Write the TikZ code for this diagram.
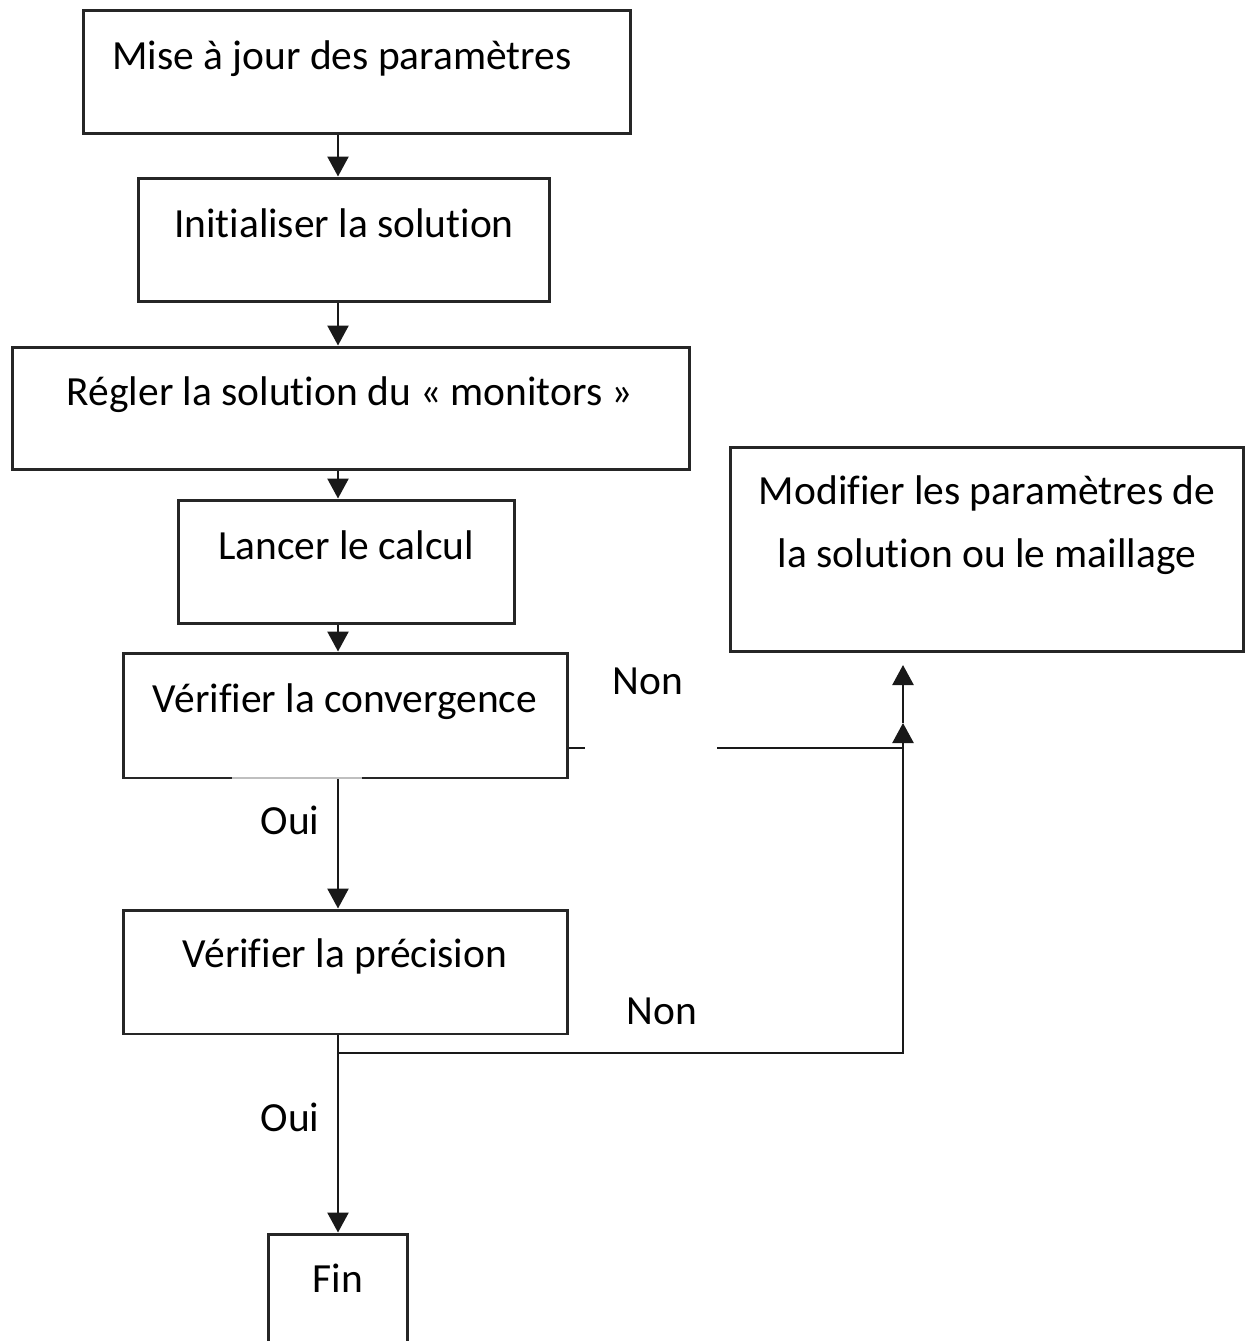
\documentclass[tikz,border=0pt]{standalone}
\usepackage{fontspec}
\setmainfont{Carlito}[Ligatures=NoCommon]
\usetikzlibrary{arrows.meta,calc}
\begin{document}
\begin{tikzpicture}[x=0.02cm,y=-0.02cm,
  bx/.style={draw=black!85,line width=1.7pt,rectangle,inner sep=0pt},
  txt/.style={font=\fontsize{23.6}{29}\selectfont,inner sep=0pt,anchor=center,text height=0.62em,text depth=0.08em,yshift=-0.19cm},
  ln/.style={draw=black!90,line width=1.4pt},
  arr/.style={ln,-{Triangle[width=0.42cm,length=0.4cm]}}]
\clip (0,0) rectangle (1248,1341);
\fill[white] (0,0) rectangle (1248,1341);
% boxes
\node[bx,minimum width=10.96cm,minimum height=2.48cm] (b1) at (357,72) {};
\node[bx,minimum width=8.24cm,minimum height=2.48cm] (b2) at (344,240) {};
\node[bx,minimum width=13.56cm,minimum height=2.46cm] (b3) at (351,408.5) {};
\node[bx,minimum width=6.74cm,minimum height=2.48cm] (b4) at (346.5,562) {};
\node[bx,minimum width=8.9cm,minimum height=2.5cm] (b5) at (345.5,715.5) {};
\node[bx,minimum width=8.9cm,minimum height=2.48cm] (b6) at (345.5,972) {};
\node[bx,minimum width=10.28cm,minimum height=4.1cm] (b7) at (987,549.5) {};
\node[bx,minimum width=2.8cm,minimum height=3.6cm] (fin) at (338,1324) {};
% texts
\node[txt] (t1) at (342,55) {Mise à jour des paramètres};
\node[txt] (t2) at (344,223) {Initialiser la solution};
\node[txt] (t3) at (350,391) {Régler la solution du « monitors »};
\node[txt] (t4) at (346,545) {Lancer le calcul};
\node[txt] (t5) at (345,698) {Vérifier la convergence};
\node[txt] (t6) at (345,953) {Vérifier la précision};
\node[txt] (t7a) at (987,490) {Modifier les paramètres de};
\node[txt] (t7b) at (987,553) {la solution ou le maillage};
\node[txt] (t8) at (338,1278) {Fin};
\node[txt] (oui1) at (290,820) {Oui};
\node[txt] (oui2) at (290,1117) {Oui};
\node[txt] (non1) at (648,680) {Non};
\node[txt] (non2) at (662,1010) {Non};
% helper coordinates
\coordinate (ax) at (338,0);
\coordinate (rx) at (903,0);
\coordinate (nony) at (0,748);
\coordinate (gapa) at (585,748);
\coordinate (gapb) at (717,748);
\coordinate (j1) at (338,1053);
\coordinate (mid) at (903,723);
\coordinate (top) at (903,665);
% gap in bottom edge of b5
\draw[white,line width=2pt] (232,778) -- (362,778);
\draw[black!25,line width=1.2pt] (232,778) -- (362,778);
% connectors
\draw[arr] (b1.south -| ax) -- (b2.north -| ax);
\draw[arr] (b2.south -| ax) -- (b3.north -| ax);
\draw[arr] (b3.south -| ax) -- (b4.north -| ax);
\draw[arr] (b4.south -| ax) -- (b5.north -| ax);
\draw[arr] (b5.south -| ax) -- (b6.north -| ax);
\draw[arr] (b6.south -| ax) -- (fin.north -| ax);
\draw[ln] (b5.east |- nony) -- (gapa);
\draw[ln] (gapb) -- (rx |- nony);
\draw[ln] (j1) -- (j1 -| rx) -- (rx |- nony);
\draw[arr] (rx |- nony) -- (mid);
\draw[arr] (mid) -- (top);
\end{tikzpicture}
\end{document}
